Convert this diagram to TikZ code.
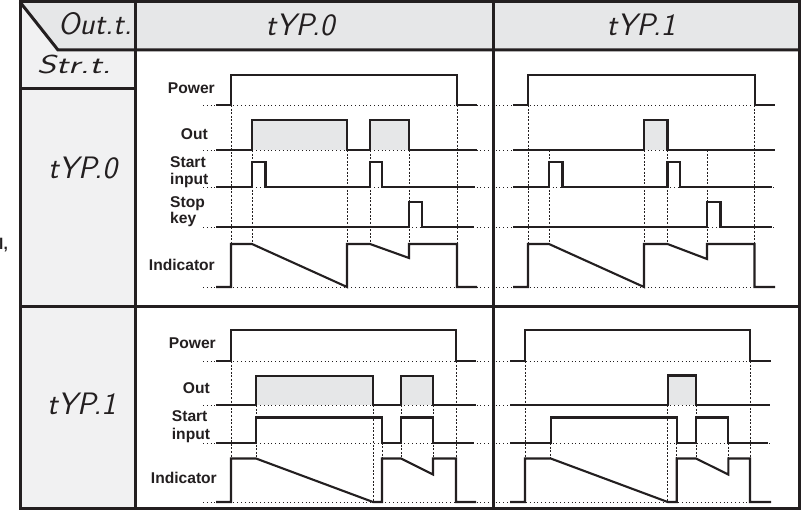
\documentclass[tikz,border=0pt]{standalone}
\usepackage{fontspec}
\setmainfont{Liberation Sans}
\definecolor{ink}{HTML}{231F20}
\definecolor{hdr}{HTML}{E6E7E8}
\definecolor{side}{HTML}{F1F1F2}
\definecolor{pulse}{HTML}{E6E7E8}
\tikzset{
  tbl/.style={line width=3pt, draw=ink, line join=miter},
  sig/.style={line width=2.1pt, draw=ink, line join=miter},
  baseln/.style={line width=0.9pt, draw=ink, dash pattern=on 1pt off 2.8pt},
  guide/.style={line width=0.8pt, draw=ink, dash pattern=on 2pt off 1.6pt},
  lbl/.style={font=\fontsize{15.6}{18}\selectfont\bfseries, inner sep=0pt, text=ink},
  seg/.style={font=\fontsize{31}{34}\selectfont\sffamily\itshape, inner sep=0pt, text=ink},
}
\begin{document}
\begin{tikzpicture}[x=1pt,y=-1pt]
\useasboundingbox (0,0) rectangle (803,510);
\fill[white] (0,0) rectangle (803,510);
% fills
\fill[hdr] (20,2) -- (799,2) -- (799,50) -- (58,50) -- cycle;
\fill[side] (20,2) -- (58,50) -- (135,50) -- (135,508) -- (20,508) -- cycle;
% out pulse fills
\fill[pulse] (252,120) rectangle (347,150);
\fill[pulse] (370,120) rectangle (409,150);
\fill[pulse] (644,120) rectangle (667.5,150);
\fill[pulse] (256,376) rectangle (373,405);
\fill[pulse] (401,376) rectangle (433,405);
\fill[pulse] (667.7,375.5) rectangle (696,405);
% dotted baselines
\foreach \y in {105,150,187,227,287} \draw[baseln] (203,\y) -- (775,\y);
\foreach \y in {361,405,443,502} \draw[baseln] (203,\y) -- (771,\y);
% guides
\foreach \x/\a/\b in {231/105/287, 252/150/244, 347/150/287, 370/150/244, 409/150/258, 457/105/287,
  528/105/287, 549/150/244, 644/150/287, 667.5/150/244, 707/150/259, 754.5/105/287,
  231/361/502, 256/405/458.5, 373/405/502, 382/417.5/502, 401/405/458.5, 433/405/474.5, 456/361/502,
  525/361/502, 550.7/443/458.5, 667.7/405/502, 676.7/443/458.5, 696/405/458.5, 728.3/443/474.5, 750/361/502}
  \draw[guide] (\x,\a) -- (\x,\b);
% row 1, column 1
\draw[sig] (216,105) -- (231,105) -- (231,75) -- (457,75) -- (457,105) -- (477,105);
\draw[sig] (216,150) -- (252,150) -- (252,120) -- (347,120) -- (347,150) -- (370,150) -- (370,120) -- (409,120) -- (409,150) -- (477,150);
\draw[sig] (216,187) -- (252,187) -- (252,162) -- (265.5,162) -- (265.5,187) -- (370,187) -- (370,162) -- (382,162) -- (382,187) -- (475,187);
\draw[sig] (216,227) -- (409,227) -- (409,202) -- (422,202) -- (422,227) -- (474,227);
\draw[sig] (216,287) -- (231,287) -- (231,244) -- (252,244) -- (347,287) -- (347,244) -- (370,244) -- (409,258) -- (409,244) -- (457,244) -- (457,287) -- (477,287);
% row 1, column 2
\draw[sig] (513,105) -- (528,105) -- (528,75) -- (755,75) -- (755,105) -- (775,105);
\draw[sig] (513,150) -- (644,150) -- (644,120) -- (667.5,120) -- (667.5,150) -- (775,150);
\draw[sig] (513,187) -- (549,187) -- (549,162) -- (562.5,162) -- (562.5,187) -- (667.5,187) -- (667.5,162) -- (680,162) -- (680,187) -- (772,187);
\draw[sig] (513,227) -- (707,227) -- (707,202) -- (720.5,202) -- (720.5,227) -- (772,227);
\draw[sig] (513,287) -- (528,287) -- (528,244) -- (549,244) -- (644,287) -- (644,244) -- (667.5,244) -- (707,259) -- (707,244) -- (754.5,244) -- (754.5,287) -- (775,287);
% row 2, column 1
\draw[sig] (216,361) -- (231,361) -- (231,330) -- (456,330) -- (456,361) -- (476,361);
\draw[sig] (216,405) -- (256,405) -- (256,376) -- (373,376) -- (373,405) -- (401,405) -- (401,376) -- (433,376) -- (433,405) -- (476,405);
\draw[sig] (216,443) -- (256,443) -- (256,417.5) -- (382,417.5) -- (382,443) -- (401,443) -- (401,417.5) -- (433,417.5) -- (433,443) -- (474,443);
\draw[sig] (216,502) -- (231,502) -- (231,458.5) -- (256,458.5) -- (373,502) -- (382,502) -- (382,458.5) -- (401,458.5) -- (433,474.5) -- (433,458.5) -- (456,458.5) -- (456,502) -- (476,502);
% row 2, column 2
\draw[sig] (510,361) -- (525,361) -- (525,330) -- (750,330) -- (750,361) -- (771,361);
\draw[sig] (510,405) -- (667.7,405) -- (667.7,375.5) -- (696,375.5) -- (696,405) -- (770,405);
\draw[sig] (510,443) -- (550.7,443) -- (550.7,417.5) -- (676.7,417.5) -- (676.7,443) -- (696,443) -- (696,417.5) -- (728.3,417.5) -- (728.3,443) -- (768,443);
\draw[sig] (510,502) -- (525,502) -- (525,458.5) -- (550.7,458.5) -- (667.7,502) -- (676.7,502) -- (676.7,458.5) -- (696,458.5) -- (728.3,474.5) -- (728.3,458.5) -- (750,458.5) -- (750,502) -- (771,502);
% table lines
\draw[tbl] (20,2) rectangle (799,508);
\draw[tbl] (135,2) -- (135,508);
\draw[tbl] (493,2) -- (493,508);
\draw[tbl] (20,2) -- (58,50) -- (799,50);
\draw[tbl] (20,89) -- (135,89);
\draw[tbl] (20,307) -- (799,307);
% seven-segment style texts
\node[seg] (hout) at (95,24) {Out.t.};
\node[seg] (htyp0) at (300,25) {tYP.0};
\node[seg] (htyp1) at (641,25) {tYP.1};
\node[seg, font=\fontsize{26}{28}\selectfont\sffamily\itshape] (hstr) at (74,64) {\scalebox{1.4}[1]{Str.t.}};
\node[seg] (rtyp0) at (82.5,167.5) {tYP.0};
\node[seg] (rtyp1) at (81.5,404) {tYP.1};
% fragment at left edge
\node[lbl, anchor=base west] (frag) at (-1,250) {l,};
% row 1 labels
\node[lbl, anchor=base east] (p1) at (215,94) {Power};
\node[lbl, anchor=base east] (o1) at (208,140) {Out};
\node[lbl, anchor=base west] (s1a) at (170,167.7) {Start};
\node[lbl, anchor=base west] (s1b) at (170,184.3) {input};
\node[lbl, anchor=base west] (k1a) at (170,207.3) {Stop};
\node[lbl, anchor=base west] (k1b) at (170,223.8) {key};
\node[lbl, anchor=base east] (i1) at (215,270.7) {Indicator};
% row 2 labels
\node[lbl, anchor=base east] (p2) at (216,348.3) {Power};
\node[lbl, anchor=base east] (o2) at (210,394) {Out};
\node[lbl, anchor=base west] (s2a) at (171.7,421.7) {Start};
\node[lbl, anchor=base west] (s2b) at (171.7,439) {input};
\node[lbl, anchor=base east] (i2) at (217,483.3) {Indicator};
\end{tikzpicture}
\end{document}
